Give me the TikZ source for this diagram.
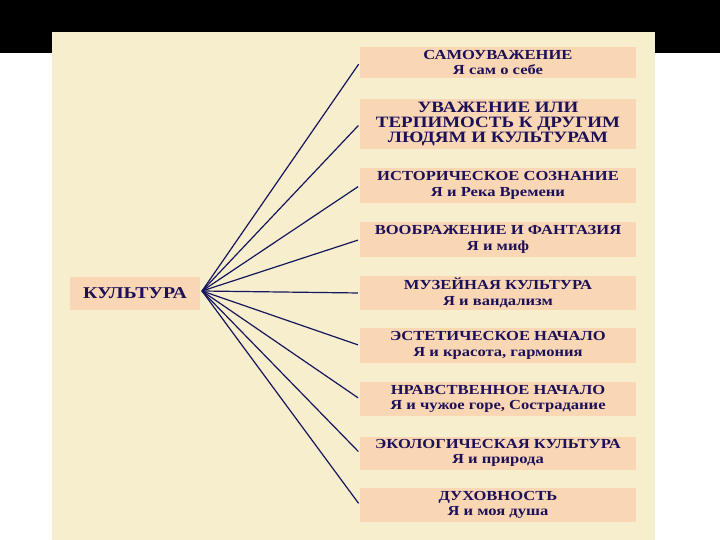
\documentclass[tikz,border=0pt]{standalone}
\usepackage{fontspec}
\setmainfont{Liberation Serif}[FakeStretch=1.2]
\usepackage{tikz}

\definecolor{panel}{HTML}{F6EECC}
\definecolor{peach}{HTML}{F9D6B4}
\definecolor{ink}{HTML}{1C1058}
\definecolor{wirecol}{HTML}{16165E}

\begin{document}
\begin{tikzpicture}[x=1pt, y=-1pt,
    theme/.style={fill=peach, text=ink, align=center, inner sep=0pt,
        minimum width=276pt, font=\bfseries\fontsize{13.8}{15.5}\selectfont},
    spoke/.style={draw=wirecol, line width=1.2pt, shorten >=2pt}]
    \useasboundingbox (0,0) rectangle (720,540);
    \fill[white] (0,0) rectangle (720,540);
    \fill[black] (0,0) rectangle (720,53);
    \fill[panel] (52,32) rectangle (655,540);

    % left box
    \node[theme, minimum width=130pt, minimum height=33pt,
        font=\bfseries\fontsize{16.5}{18}\selectfont] (kult) at (135,293) {КУЛЬТУРА};
    \coordinate (hub) at (202,291);

    % right column
    \node[theme, minimum height=31pt] (b1) at (498,62.5) {САМОУВАЖЕНИЕ\\Я сам о себе};
    \node[theme, minimum height=50pt, font=\bfseries\fontsize{15.8}{15}\selectfont] (b2) at (498,124)
        {УВАЖЕНИЕ ИЛИ\\ТЕРПИМОСТЬ К ДРУГИМ\\ЛЮДЯМ И КУЛЬТУРАМ};
    \node[theme, minimum height=35pt] (b3) at (498,185.5) {ИСТОРИЧЕСКОЕ СОЗНАНИЕ\\Я и Река Времени};
    \node[theme, minimum height=35pt] (b4) at (498,239.5) {ВООБРАЖЕНИЕ И ФАНТАЗИЯ\\Я и миф};
    \node[theme, minimum height=34pt] (b5) at (498,293) {МУЗЕЙНАЯ КУЛЬТУРА\\Я и вандализм};
    \node[theme, minimum height=35pt] (b6) at (498,345.5) {ЭСТЕТИЧЕСКОЕ НАЧАЛО\\Я и красота, гармония};
    \node[theme, minimum height=34pt] (b7) at (498,399) {НРАВСТВЕННОЕ НАЧАЛО\\Я и чужое горе, Сострадание};
    \node[theme, minimum height=33pt] (b8) at (498,453) {ЭКОЛОГИЧЕСКАЯ КУЛЬТУРА\\Я и природа};
    \node[theme, minimum height=34pt] (b9) at (498,505) {ДУХОВНОСТЬ\\Я и моя душа};

    \foreach \b in {b1,b2,b3,b4,b5,b6,b7,b8,b9}
        \draw[spoke] (hub) -- (\b.west);
\end{tikzpicture}
\end{document}
